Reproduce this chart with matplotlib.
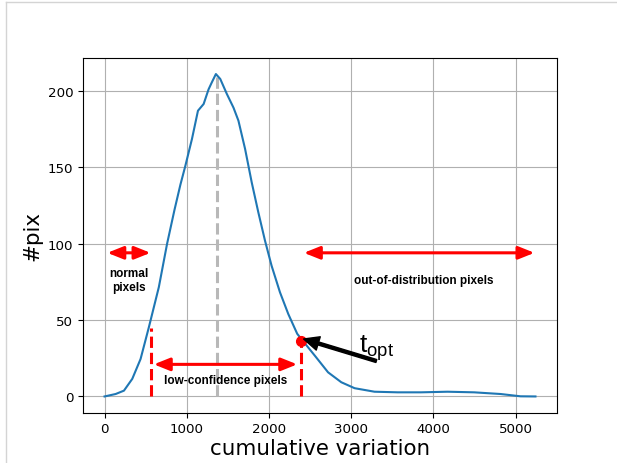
import matplotlib
matplotlib.use("Agg")
import matplotlib.pyplot as plt
from matplotlib.lines import Line2D

# Curve (cumulative variation vs #pix)
cv = [0, 135, 236, 337, 438, 539, 660, 760, 850, 922, 983, 1063, 1136, 1205, 1265, 1305,
      1354, 1407, 1487, 1568, 1628, 1709, 1790, 1870, 1951, 2031, 2133, 2234, 2343, 2395,
      2557, 2718, 2879, 3041, 3283, 3565, 3847, 4171, 4494, 4816, 5058, 5240]
npix = [0, 1.6, 3.8, 11.5, 24.5, 45.3, 71.5, 99.8, 122, 138.5, 151, 168.5, 187, 191.4, 201, 205.6,
        211, 207.8, 198, 189, 180.5, 162, 140, 120.5, 102, 85.6, 68.2, 54, 41, 37.5,
        26.7, 15.8, 9.3, 5.4, 3.1, 2.7, 2.7, 3.1, 2.7, 1.6, 0.1, 0]

peak_x, peak_y = 1366, 210
low_x, low_top = 567, 45
opt_x, opt_y = 2395, 36

normal_arrow = (34, 559, 94)
ood_arrow = (2424, 5228, 94)
lowconf_arrow = (599, 2343, 21)

W, H = 617, 464
fig = plt.figure(figsize=(W / 100, H / 100), dpi=100)
ax = fig.add_axes([83 / W, 1 - 413.5 / H, (557 - 83) / W, (413.5 - 59) / H])

ax.grid(True, color="#b0b0b0", lw=0.8)
ax.set_axisbelow(True)
ax.plot(cv, npix, color="#1f77b4", lw=1.5, zorder=3)

ax.plot([peak_x, peak_x], [0, peak_y], ls="--", color="#b8b8b8", lw=2.2, zorder=2)
ax.plot([low_x, low_x], [0, low_top], ls="--", color="red", lw=2.2, zorder=4)
ax.plot([opt_x, opt_x], [0, opt_y], ls="--", color="red", lw=2.2, zorder=4)
ax.plot([opt_x], [opt_y], "o", color="red", ms=7, zorder=5)

aprops = dict(arrowstyle="<|-|>,head_length=0.8,head_width=0.32", color="red", lw=2.2,
              mutation_scale=12, shrinkA=0, shrinkB=0)
for x0, x1, y in (normal_arrow, ood_arrow, lowconf_arrow):
    ax.annotate("", xy=(x1, y), xytext=(x0, y), arrowprops=aprops, zorder=6)

tf = dict(family="Liberation Sans", fontweight="bold", fontsize=8.5, ha="center", va="center")
ax.text(297, 76.4, "normal\npixels", **tf)
ax.text(3880, 76.2, "out-of-distribution pixels", **tf)
ax.text(1471, 10.8, "low-confidence pixels", **tf)

ax.annotate("", xy=(2421, 37.6), xytext=(3305, 23.2),
            arrowprops=dict(facecolor="black", edgecolor="black", width=2.2, headwidth=10,
                            headlength=11, shrink=0), zorder=6)
plt.rcParams["mathtext.fontset"] = "custom"
plt.rcParams["mathtext.rm"] = "Liberation Sans"
ax.text(3100, 29, r"$\mathregular{t_{opt}}$", fontsize=19, family="Liberation Sans",
        ha="left", va="baseline")

ax.set_xlim(-262, 5502)
ax.set_ylim(-10.5, 221.5)
ax.tick_params(labelsize=9.6)
ax.set_xlabel("cumulative variation", fontsize=15.4, labelpad=2)
ax.set_ylabel("#pix", fontsize=15.4)

fig.add_artist(Line2D([6 / W, 6 / W], [0, 1 - 3 / H], color="#d4d4d4", lw=1.0))
fig.add_artist(Line2D([6 / W, 1], [1 - 3 / H, 1 - 3 / H], color="#d4d4d4", lw=1.0))

fig.savefig("out.png", dpi=100)
